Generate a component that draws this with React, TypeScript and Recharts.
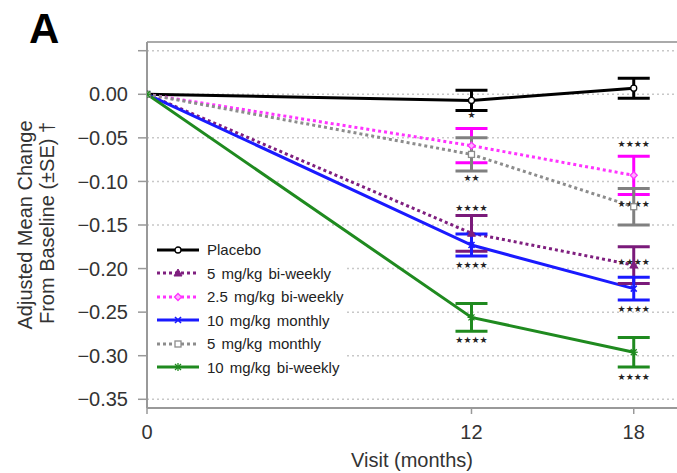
import React from 'react';
import {
  ComposedChart,
  Line,
  Scatter,
  ErrorBar,
  XAxis,
  YAxis,
  CartesianGrid,
  Legend,
  ReferenceLine,
  Label,
} from 'recharts';

// ---------- data ----------
const months = [0, 12, 18];

const placebo = [0, -0.007, 0.007];
const placeboSE = [null, 0.0115, 0.0115];

const biweekly5 = [0, -0.1595, -0.196];
const biweekly5SE = [null, 0.0205, 0.021];

const biweekly25 = [0, -0.059, -0.093];
const biweekly25SE = [null, 0.0197, 0.022];

const monthly10 = [0, -0.173, -0.223];
const monthly10SE = [null, 0.0127, 0.013];

const monthly5 = [0, -0.069, -0.129];
const monthly5SE = [null, 0.019, 0.021];

const biweekly10 = [0, -0.256, -0.296];
const biweekly10SE = [null, 0.016, 0.017];

const seriesNames = [
  'Placebo',
  '5 mg/kg bi-weekly',
  '2.5 mg/kg bi-weekly',
  '10 mg/kg monthly',
  '5 mg/kg monthly',
  '10 mg/kg bi-weekly',
];

const yTicks = [0.05, 0, -0.05, -0.1, -0.15, -0.2, -0.25, -0.3, -0.35];
const xTicks = [0, 12, 18];

// significance annotations (month, value, stars)
const annotMonth = [12, 12, 12, 12, 12, 18, 18, 18, 18, 18];
const annotValue = [-0.0241, -0.0956, -0.1302, -0.1954, -0.2815, -0.0566, -0.1262, -0.1924, -0.2467, -0.3248];
const annotText = ['★', '★★', '★★★★', '★★★★', '★★★★', '★★★★', '★★★★', '★★★★', '★★★★', '★★★★'];

// ---------- config ----------
const FONT = "Arial, 'Liberation Sans', Helvetica, sans-serif";
const Y_MIN = -0.36;
const Y_MAX = 0.06;
const X_MAX = 19.6;

type MarkerType = 'circle' | 'triangle' | 'diamond' | 'x' | 'square' | 'asterisk';

const series: {
  key: string;
  name: string;
  values: number[];
  se: (number | null)[];
  color: string;
  barColor: string;
  dashed: boolean;
  marker: MarkerType;
}[] = [
  { key: 'placebo', name: seriesNames[0], values: placebo, se: placeboSE, color: '#000000', barColor: '#000000', dashed: false, marker: 'circle' },
  { key: 'bw5', name: seriesNames[1], values: biweekly5, se: biweekly5SE, color: '#7f1f7f', barColor: '#7a1a7a', dashed: true, marker: 'triangle' },
  { key: 'bw25', name: seriesNames[2], values: biweekly25, se: biweekly25SE, color: '#ff33ff', barColor: '#ff00ff', dashed: true, marker: 'diamond' },
  { key: 'm10', name: seriesNames[3], values: monthly10, se: monthly10SE, color: '#1a1aff', barColor: '#1a1aff', dashed: false, marker: 'x' },
  { key: 'm5', name: seriesNames[4], values: monthly5, se: monthly5SE, color: '#8c8c8c', barColor: '#808080', dashed: true, marker: 'square' },
  { key: 'bw10', name: seriesNames[5], values: biweekly10, se: biweekly10SE, color: '#1f8a1f', barColor: '#1f8a1f', dashed: false, marker: 'asterisk' },
];

const rows = months.map((m, i) => {
  const r: any = { month: m };
  series.forEach((s) => {
    r[s.key] = s.values[i];
    r[s.key + '_se'] = s.se[i];
  });
  return r;
});

const annots = annotMonth.map((m, i) => ({ month: m, y: annotValue[i], text: annotText[i] }));

// ---------- marks ----------
const Marker = ({ cx, cy, type, color }: { cx: number; cy: number; type: MarkerType; color: string }) => {
  const s = 3;
  switch (type) {
    case 'circle':
      return <circle cx={cx} cy={cy} r={s} fill="#fff" stroke={color} strokeWidth={1.3} />;
    case 'triangle':
      return (
        <polygon
          points={`${cx},${cy - s - 1} ${cx - s - 1},${cy + s} ${cx + s + 1},${cy + s}`}
          fill={color}
          stroke={color}
          strokeWidth={1}
        />
      );
    case 'diamond':
      return (
        <polygon
          points={`${cx},${cy - s - 0.5} ${cx + s + 0.5},${cy} ${cx},${cy + s + 0.5} ${cx - s - 0.5},${cy}`}
          fill="#ffb3ff"
          stroke={color}
          strokeWidth={1.3}
        />
      );
    case 'x':
      return (
        <g stroke={color} strokeWidth={1.6}>
          <line x1={cx - s} y1={cy - s} x2={cx + s} y2={cy + s} />
          <line x1={cx - s} y1={cy + s} x2={cx + s} y2={cy - s} />
        </g>
      );
    case 'square':
      return <rect x={cx - s} y={cy - s} width={2 * s} height={2 * s} fill="#fff" stroke={color} strokeWidth={1.3} />;
    case 'asterisk':
      return (
        <g stroke={color} strokeWidth={1.3}>
          <line x1={cx - s} y1={cy - s} x2={cx + s} y2={cy + s} />
          <line x1={cx - s} y1={cy + s} x2={cx + s} y2={cy - s} />
          <line x1={cx} y1={cy - s - 1} x2={cx} y2={cy + s + 1} />
          <line x1={cx - s - 1} y1={cy} x2={cx + s + 1} y2={cy} />
        </g>
      );
    default:
      return null;
  }
};

const formatY = (v: number) => {
  if (Math.abs(v - 0.05) < 1e-9) return '';
  if (Math.abs(v) < 1e-9) return '0.00';
  const s = Math.abs(v).toFixed(2);
  return v < 0 ? '\u2212' + s : s;
};

const YTitle = (props: any) => {
  const vb = props.viewBox || { x: 0, y: 42, width: 147, height: 366 };
  const cy = vb.y + vb.height / 2;
  return (
    <g fontFamily={FONT} fontSize={20} fill="#333">
      <text x={32} y={cy} transform={`rotate(-90, 32, ${cy})`} textAnchor="middle">
        Adjusted Mean Change
      </text>
      <text x={54} y={cy - 2} transform={`rotate(-90, 54, ${cy - 2})`} textAnchor="middle">
        From Baseline (±SE) †
      </text>
    </g>
  );
};

const LegendContent = () => (
  <div
    style={{
      background: '#fff',
      padding: '0px 2px 0px 8px',
      fontFamily: FONT,
      fontSize: 15,
      color: '#222',
      whiteSpace: 'nowrap',
    }}
  >
    {series.map((s) => (
      <div key={s.key} style={{ display: 'flex', alignItems: 'center', height: 23.5 }}>
        <svg width={44} height={14} style={{ display: 'block' }}>
          <line
            x1={1}
            x2={43}
            y1={7}
            y2={7}
            stroke={s.color}
            strokeWidth={3}
            strokeDasharray={s.dashed ? '3 3' : undefined}
          />
          <Marker cx={22} cy={7} type={s.marker} color={s.color} />
        </svg>
        <span style={{ marginLeft: 7, wordSpacing: 2 }}>{s.name}</span>
      </div>
    ))}
  </div>
);

export default function App() {
  return (
    <div style={{ position: 'absolute', left: 0, top: 0, width: 677, height: 473, background: '#fff' }}>
      <div
        style={{
          position: 'absolute',
          left: 29,
          top: 8,
          fontFamily: FONT,
          fontWeight: 'bold',
          fontSize: 42,
          lineHeight: 1,
          color: '#000',
          zIndex: 2,
        }}
      >
        A
      </div>
      <ComposedChart
        width={677}
        height={473}
        data={rows}
        margin={{ top: 42, right: 0, bottom: 0, left: 0 }}
      >
        <CartesianGrid horizontal vertical={false} stroke="#c8c8c8" strokeDasharray="2 3" strokeWidth={1.5} />
        <XAxis
          dataKey="month"
          type="number"
          domain={[0, X_MAX]}
          ticks={xTicks}
          allowDataOverflow
          height={65}
          tickSize={6}
          tickMargin={11}
          axisLine={{ stroke: '#999', strokeWidth: 2 }}
          tickLine={{ stroke: '#999', strokeWidth: 1.5 }}
          tick={{ fontFamily: FONT, fontSize: 20, fill: '#333' }}
        >
          <Label
            value="Visit (months)"
            position="insideBottom"
            offset={6}
            style={{ fontFamily: FONT, fontSize: 20, fill: '#333' }}
          />
        </XAxis>
        <YAxis
          type="number"
          domain={[Y_MIN, Y_MAX]}
          ticks={yTicks}
          allowDataOverflow
          width={147}
          tickSize={9}
          tickMargin={10}
          tickFormatter={formatY}
          axisLine={{ stroke: '#999', strokeWidth: 2 }}
          tickLine={{ stroke: '#999', strokeWidth: 1.5 }}
          tick={{ fontFamily: FONT, fontSize: 20, fill: '#333' }}
        >
          <Label content={<YTitle />} />
        </YAxis>
        <ReferenceLine y={Y_MAX} stroke="#aaa" strokeWidth={2} ifOverflow="extendDomain" />

        {series.map((s) => (
          <Line
            key={s.key}
            dataKey={s.key}
            name={s.name}
            stroke={s.color}
            strokeWidth={3}
            strokeDasharray={s.dashed ? '3 3' : undefined}
            isAnimationActive={false}
            legendType="none"
            dot={(p: any) => (
              <Marker key={`${s.key}-${p.index}`} cx={p.cx} cy={p.cy} type={s.marker} color={s.color} />
            )}
            activeDot={false}
          />
        ))}

        {series.map((s) => (
          <Scatter
            key={s.key + '-eb'}
            data={rows.filter((r) => r[s.key + '_se'] != null)}
            dataKey={s.key}
            isAnimationActive={false}
            legendType="none"
            shape={() => <g />}
          >
            <ErrorBar
              dataKey={s.key + '_se'}
              direction="y"
              width={16}
              stroke={s.barColor}
              strokeWidth={3}
              isAnimationActive={false}
            />
          </Scatter>
        ))}

        <Scatter
          data={annots}
          dataKey="y"
          isAnimationActive={false}
          legendType="none"
          shape={(p: any) => (
            <text
              x={p.cx}
              y={p.cy}
              textAnchor="middle"
              dominantBaseline="central"
              fontSize={9}
              fill="#222"
              fontFamily="'DejaVu Sans', sans-serif"
            >
              {p.payload.text}
            </text>
          )}
        />

        <Legend
          layout="vertical"
          align="center"
          verticalAlign="middle"
          content={<LegendContent />}
          wrapperStyle={{ left: 148, top: 238, width: 'auto' }}
        />
      </ComposedChart>
    </div>
  );
}
